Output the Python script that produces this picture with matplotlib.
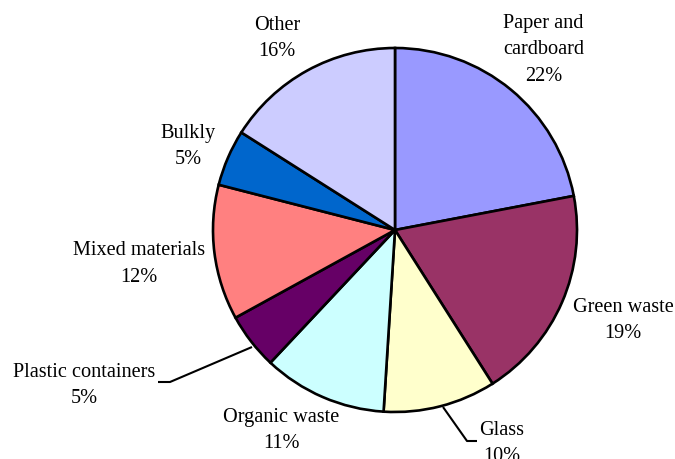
import matplotlib
matplotlib.use("Agg")
import matplotlib.pyplot as plt

# Data
categories = ["Paper and\ncardboard", "Green waste", "Glass", "Organic waste",
              "Plastic containers", "Mixed materials", "Bulkly", "Other"]
values = [22, 19, 10, 11, 5, 12, 5, 16]

# Styles
colors = ["#9999FF", "#993366", "#FFFFCC", "#CCFFFF",
          "#660066", "#FF8080", "#0066CC", "#CCCCFF"]

W, H = 675, 460
fig = plt.figure(figsize=(W / 100, H / 100), dpi=100)
ax = fig.add_axes([0, 0, 1, 1])

cx, cy, r = 395, H - 231, 182
ax.pie(values, colors=colors, startangle=90, counterclock=False,
       center=(cx, cy), radius=r, frame=True,
       wedgeprops=dict(edgecolor="black", linewidth=1.9))
ax.set_xlim(0, W)
ax.set_ylim(0, H)
ax.axis("off")

# Label layout (pixel coords from top: center x, first baseline y)
label_pos = [(543.5, 28), (623, 312), (502, 435), (281, 422),
             (84.5, 377), (139, 255), (188.5, 138), (277, 30)]
line_gap = 26.5
font = dict(family="Liberation Serif", size=14.6, color="black")

for cat, val, (x, y) in zip(categories, values, label_pos):
    lines = cat.split("\n") + [f"{val}%"]
    for i, ln in enumerate(lines):
        ax.text(x, H - (y + i * line_gap), ln, ha="center", va="baseline", **font)

# Leader lines (pixel coords from top)
leaders = [
    [(252, 348), (170, 383), (158, 383)],
    [(443, 408), (467, 442), (477, 442)],
]
for pts in leaders:
    xs = [p[0] for p in pts]
    ys = [H - p[1] for p in pts]
    ax.plot(xs, ys, color="black", linewidth=1.5, solid_capstyle="butt")

fig.savefig("out.png", dpi=100)
